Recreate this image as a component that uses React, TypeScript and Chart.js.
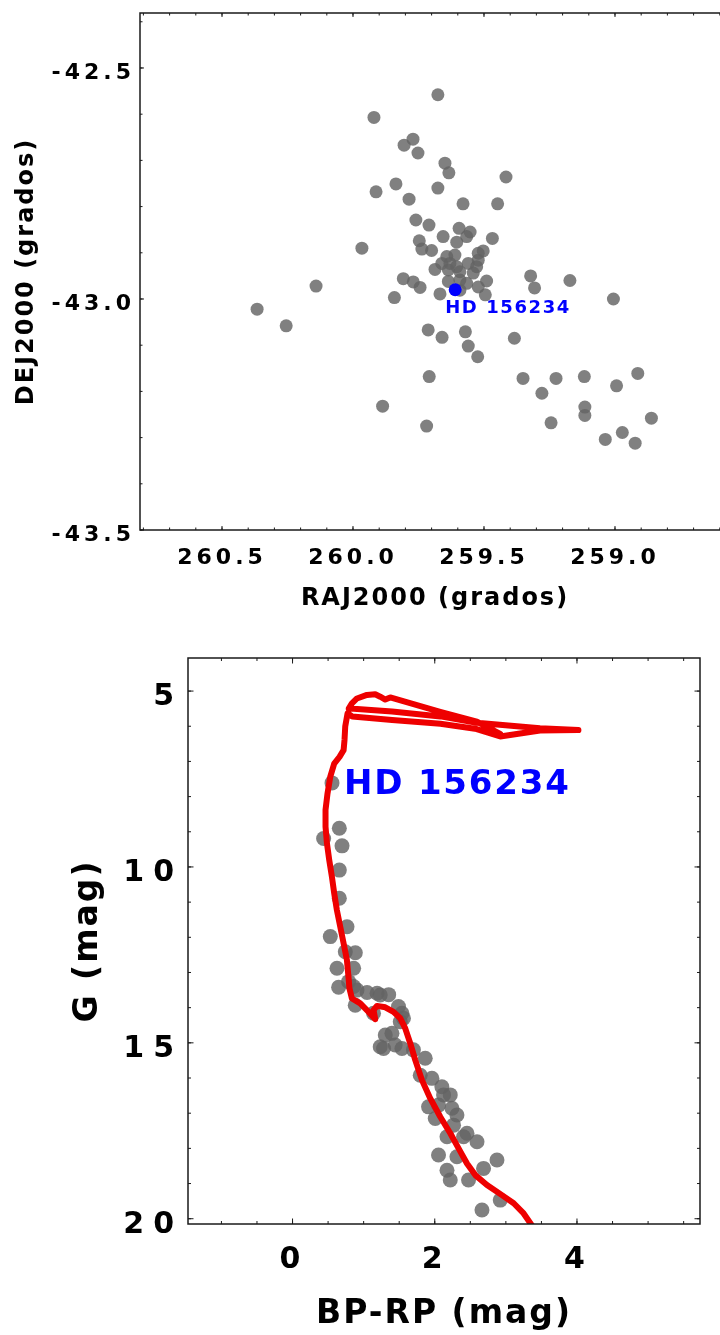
import React, { useEffect, useRef } from 'react';
import { Chart, registerables, Scale } from 'chart.js';

Chart.register(...registerables);

const FAMILY = "'DejaVu Sans', 'Liberation Sans', sans-serif";

// ---------- Top chart: sky positions ----------
const FIELD_RA = [
  259.676, 259.920, 259.771, 259.805, 259.752, 259.649, 259.634, 259.416, 259.836, 259.912,
  259.676, 259.786, 259.580, 259.448, 259.760, 259.710, 259.656, 259.595, 259.553, 259.468,
  259.747, 259.737, 259.700, 259.604, 259.966, 259.503, 259.522, 259.808, 259.770, 259.744,
  260.141, 260.366, 260.255, 259.842, 259.668, 259.490, 259.522, 259.495, 259.713, 259.660,
  259.571, 259.560, 259.524, 259.384, 259.322, 259.307, 259.172, 259.006, 259.709, 259.351,
  259.279, 259.225, 259.117, 258.994, 258.913, 259.887, 259.719, 259.244, 259.115, 259.115,
  258.861, 259.037, 258.972, 258.923, 259.566, 259.642, 259.611, 259.630, 259.604, 259.592,
  259.636, 259.687, 259.661, 259.560, 259.528, 259.522, 259.541, 259.592, 259.592, 259.566,
  259.636,
];
const FIELD_DEC = [
  -42.558, -42.607, -42.654, -42.667, -42.684, -42.706, -42.727, -42.736, -42.751, -42.768,
  -42.760, -42.784, -42.794, -42.794, -42.829, -42.840, -42.865, -42.847, -42.855, -42.869,
  -42.874, -42.892, -42.895, -42.877, -42.890, -42.896, -42.901, -42.956, -42.963, -42.975,
  -42.972, -43.022, -43.058, -42.997, -42.989, -42.961, -42.974, -42.991, -43.067, -43.083,
  -43.071, -43.102, -43.125, -43.085, -42.950, -42.976, -42.960, -43.000, -43.168, -43.172,
  -43.204, -43.172, -43.168, -43.188, -43.161, -43.232, -43.275, -43.268, -43.234, -43.252,
  -43.258, -43.304, -43.289, -43.312, -42.865, -42.908, -42.905, -42.923, -42.930, -42.941,
  -42.937, -42.936, -42.923, -42.923, -42.930, -42.916, -42.944, -42.959, -42.981, -42.966,
  -42.962,
];
const STAR_NAME = 'HD 156234';
const STAR_RA = 259.61;
const STAR_DEC = -42.98;
const RA_TICKS = [260.5, 260.0, 259.5, 259.0];
const DEC_TICKS = [-42.5, -43.0, -43.5];

// ---------- Bottom chart: colour-magnitude diagram ----------
const CMD_BPRP = [
  0.555, 0.658, 0.437, 0.696, 0.658, 0.658, 0.766, 0.531, 0.742, 0.883,
  0.625, 0.859, 0.648, 0.789, 0.858, 0.907, 1.048, 1.189, 1.233, 1.352,
  0.882, 1.139, 1.490, 1.539, 1.560, 1.515, 1.398, 1.304, 1.280, 1.233,
  1.444, 1.539, 1.700, 1.866, 1.796, 1.960, 2.100, 2.124, 2.218, 1.913,
  2.053, 2.242, 2.312, 2.007, 2.264, 2.453, 2.405, 2.172, 2.594, 2.053,
  2.312, 2.875, 2.686, 2.172, 2.218, 2.475, 2.921, 2.664,
];
const CMD_G = [
  7.61, 8.90, 9.19, 9.40, 10.09, 10.89, 11.70, 11.98, 12.41, 12.44,
  12.88, 12.88, 13.42, 13.26, 13.40, 13.50, 13.57, 13.59, 13.64, 13.63,
  13.93, 14.16, 13.97, 14.16, 14.30, 14.40, 14.73, 14.78, 15.16, 15.11,
  15.06, 15.16, 15.20, 15.44, 15.92, 16.01, 16.25, 16.48, 16.48, 16.82,
  16.77, 16.86, 17.05, 17.15, 17.34, 17.57, 17.67, 17.67, 17.81, 18.19,
  18.24, 18.33, 18.57, 18.62, 18.90, 18.90, 19.47, 19.75,
];
const CMD_STAR_BPRP = 0.555;
const CMD_STAR_G = 7.61;

const ISO_BPRP = [
  3.42, 3.25, 3.11, 2.945, 2.734, 2.57, 2.453, 2.335, 2.218, 2.077,
  1.937, 1.82, 1.726, 1.655, 1.585, 1.515, 1.42, 1.304, 1.187, 1.139,
  1.163, 1.069, 0.952, 0.835, 0.80, 0.79, 0.765, 0.718, 0.671, 0.624,
  0.586, 0.554, 0.516, 0.484, 0.464, 0.464, 0.492, 0.530, 0.586, 0.661,
  0.718, 0.731, 0.741, 0.774,
  0.84, 1.40, 2.08, 2.59, 2.92, 3.48, 4.02,
  3.48, 2.59, 2.08, 1.40, 0.86, 0.79,
  0.835, 0.906, 1.046, 1.163, 1.233, 1.304, 1.374, 2.077, 2.593, 2.92,
];
const ISO_G = [
  20.35, 19.85, 19.56, 19.33, 19.04, 18.76, 18.43, 18.00, 17.57, 17.10,
  16.58, 16.06, 15.49, 15.01, 14.59, 14.30, 14.12, 13.99, 13.95, 14.07,
  14.33, 14.12, 13.88, 13.74, 13.45, 13.20, 12.65, 12.17, 11.70, 11.23,
  10.75, 10.28, 9.80, 9.33, 8.86, 8.38, 7.91, 7.44, 7.06, 6.87,
  6.68, 6.39, 6.01, 5.63,
  5.72, 5.82, 5.93, 6.08, 6.29, 6.12, 6.11,
  6.06, 5.90, 5.72, 5.58, 5.50, 5.50,
  5.35, 5.21, 5.11, 5.09, 5.16, 5.24, 5.18, 5.59, 5.87, 6.22,
];
const BPRP_TICKS = [0, 2, 4];
const G_TICKS = [5, 10, 15, 20];

// ---------- helpers ----------
function range(a: number, b: number, s: number): number[] {
  const out: number[] = [];
  const n = Math.round((b - a) / s);
  for (let i = 0; i <= n; i++) out.push(Math.round((a + i * s) * 1000) / 1000);
  return out;
}

// letter spacing support for Chart.js tick labels / titles
const proto: any = (Scale as any).prototype;
if (!proto.__lsPatched) {
  proto.__lsPatched = true;
  const origLabels = proto.drawLabels;
  const origTitle = proto.drawTitle;
  proto.drawLabels = function (area: any) {
    const ctx = this.ctx;
    let ls = '0px';
    try { ls = (this.options.ticks && this.options.ticks.letterSpacing) || '0px'; } catch (e) {}
    ctx.save();
    ctx.letterSpacing = ls;
    origLabels.call(this, area);
    ctx.restore();
  };
  proto.drawTitle = function () {
    const ctx = this.ctx;
    let ls = '0px';
    try { ls = (this.options.title && this.options.title.letterSpacing) || '0px'; } catch (e) {}
    ctx.save();
    ctx.letterSpacing = ls;
    origTitle.call(this);
    ctx.restore();
  };
}

function fixSize(key: 'width' | 'height', size: number) {
  return (s: any) => {
    s[key] = size;
    s.paddingTop = 0;
    s.paddingBottom = 0;
    s.paddingLeft = 0;
    s.paddingRight = 0;
  };
}

function framePlugin(xMajor: number[], xMinor: number[], yMajor: number[], yMinor: number[], majLen: number, minLen: number) {
  return {
    id: 'frameTicks',
    afterDraw(chart: any) {
      const { ctx, chartArea: a, scales } = chart;
      const xs = scales.x;
      const ys = scales.y;
      ctx.save();
      ctx.strokeStyle = '#1a1a1a';
      ctx.lineWidth = 1;
      ctx.beginPath();
      const doX = (vals: number[], len: number) => {
        vals.forEach((v) => {
          const p = xs.getPixelForValue(v);
          if (p < a.left - 0.5 || p > a.right + 0.5) return;
          ctx.moveTo(p, a.bottom); ctx.lineTo(p, a.bottom - len);
          ctx.moveTo(p, a.top); ctx.lineTo(p, a.top + len);
        });
      };
      const doY = (vals: number[], len: number) => {
        vals.forEach((v) => {
          const p = ys.getPixelForValue(v);
          if (p < a.top - 0.5 || p > a.bottom + 0.5) return;
          ctx.moveTo(a.left, p); ctx.lineTo(a.left + len, p);
          ctx.moveTo(a.right, p); ctx.lineTo(a.right - len, p);
        });
      };
      doX(xMinor, minLen); doX(xMajor, majLen);
      doY(yMinor, minLen); doY(yMajor, majLen);
      ctx.stroke();
      ctx.lineWidth = 1.5;
      ctx.strokeRect(a.left, a.top, a.right - a.left, a.bottom - a.top);
      ctx.restore();
    },
  };
}

function labelPlugin(text: string, x: number, y: number, dx: number, dy: number, size: number, ls: string, color: string) {
  return {
    id: 'starLabel',
    afterDatasetsDraw(chart: any) {
      const { ctx, scales } = chart;
      const px = scales.x.getPixelForValue(x) + dx;
      const py = scales.y.getPixelForValue(y) + dy;
      ctx.save();
      ctx.font = `bold ${size}px ${FAMILY}`;
      ctx.letterSpacing = ls;
      ctx.fillStyle = color;
      ctx.textAlign = 'left';
      ctx.textBaseline = 'middle';
      ctx.fillText(text, px, py);
      ctx.restore();
    },
  };
}

function topConfig(): any {
  return {
    type: 'scatter',
    data: {
      datasets: [
        {
          data: [{ x: STAR_RA, y: STAR_DEC }],
          backgroundColor: '#0000ff',
          pointRadius: 6.5,
          borderWidth: 0,
          order: 0,
        },
        {
          data: FIELD_RA.map((x, i) => ({ x, y: FIELD_DEC[i] })),
          backgroundColor: 'rgba(100,100,100,0.82)',
          pointRadius: 6.5,
          borderWidth: 0,
          order: 1,
        },
      ],
    },
    options: {
      responsive: false,
      animation: false,
      devicePixelRatio: 1,
      events: [],
      layout: { padding: { top: 13, right: 10, left: 0, bottom: 0 } },
      plugins: { legend: { display: false }, tooltip: { enabled: false } },
      scales: {
        x: {
          type: 'linear',
          reverse: true,
          min: 258.561,
          max: 260.813,
          grid: { display: false, drawTicks: false },
          border: { display: false },
          afterFit: fixSize('height', 90),
          afterBuildTicks: (s: any) => { s.ticks = RA_TICKS.map((v) => ({ value: v })); },
          ticks: {
            padding: 15,
            maxRotation: 0,
            autoSkip: false,
            color: '#000',
            font: { family: FAMILY, size: 22, weight: 'bold' },
            letterSpacing: '4px',
            callback: (v: any) => Number(v).toFixed(1),
          },
          title: {
            display: true,
            text: 'RAJ2000 (grados)',
            color: '#000',
            font: { family: FAMILY, size: 24, weight: 'bold' },
            padding: { top: 0, bottom: 7 },
            letterSpacing: '2px',
          },
        },
        y: {
          type: 'linear',
          min: -43.5,
          max: -42.381,
          grid: { display: false, drawTicks: false },
          border: { display: false },
          afterFit: fixSize('width', 140),
          afterBuildTicks: (s: any) => { s.ticks = DEC_TICKS.map((v) => ({ value: v })); },
          ticks: {
            padding: 5,
            labelOffset: 5,
            color: '#000',
            font: { family: FAMILY, size: 22, weight: 'bold' },
            letterSpacing: '4px',
            callback: (v: any) => Number(v).toFixed(1),
          },
          title: {
            display: true,
            text: 'DEJ2000 (grados)',
            color: '#000',
            font: { family: FAMILY, size: 24, weight: 'bold' },
            padding: { top: 12, bottom: 0 },
            letterSpacing: '2px',
          },
        },
      },
    },
    plugins: [
      framePlugin(RA_TICKS, range(258.6, 260.8, 0.1), DEC_TICKS, range(-43.5, -42.4, 0.1), 4, 2.5),
      labelPlugin(STAR_NAME, STAR_RA, STAR_DEC, -10, 19, 18, '1.6px', '#0000ff'),
    ],
  };
}

function bottomConfig(): any {
  return {
    type: 'scatter',
    data: {
      datasets: [
        {
          data: ISO_BPRP.map((x, i) => ({ x, y: ISO_G[i] })),
          showLine: true,
          borderColor: 'rgb(238,0,0)',
          borderWidth: 6,
          borderCapStyle: 'round',
          borderJoinStyle: 'round',
          pointRadius: 0,
          tension: 0,
          order: 0,
        },
        {
          data: CMD_BPRP.map((x, i) => ({ x, y: CMD_G[i] })),
          backgroundColor: 'rgba(100,100,100,0.82)',
          pointRadius: 7.5,
          borderWidth: 0,
          order: 1,
        },
      ],
    },
    options: {
      responsive: false,
      animation: false,
      devicePixelRatio: 1,
      events: [],
      layout: { padding: { top: 33, right: 20, left: 0, bottom: 0 } },
      plugins: { legend: { display: false }, tooltip: { enabled: false } },
      scales: {
        x: {
          type: 'linear',
          min: -1.47,
          max: 5.73,
          grid: { display: false, drawTicks: false },
          border: { display: false },
          afterFit: fixSize('height', 111),
          afterBuildTicks: (s: any) => { s.ticks = BPRP_TICKS.map((v) => ({ value: v })); },
          ticks: {
            padding: 18,
            labelOffset: -2.5,
            maxRotation: 0,
            autoSkip: false,
            color: '#000',
            font: { family: FAMILY, size: 30, weight: 'bold' },
            letterSpacing: '0px',
            callback: (v: any) => String(v),
          },
          title: {
            display: true,
            text: 'BP-RP (mag)',
            color: '#000',
            font: { family: FAMILY, size: 33, weight: 'bold' },
            padding: { top: 0, bottom: 1 },
            letterSpacing: '2px',
          },
        },
        y: {
          type: 'linear',
          reverse: true,
          min: 4.06,
          max: 20.15,
          grid: { display: false, drawTicks: false },
          border: { display: false },
          afterFit: fixSize('width', 188),
          afterBuildTicks: (s: any) => { s.ticks = G_TICKS.map((v) => ({ value: v })); },
          ticks: {
            padding: 5,
            labelOffset: 6,
            color: '#000',
            font: { family: FAMILY, size: 30, weight: 'bold' },
            letterSpacing: '9px',
            callback: (v: any) => String(v),
          },
          title: {
            display: true,
            text: 'G (mag)',
            color: '#000',
            font: { family: FAMILY, size: 33, weight: 'bold' },
            padding: { top: 69, bottom: 0 },
            letterSpacing: '2px',
          },
        },
      },
    },
    plugins: [
      framePlugin(BPRP_TICKS, range(-1.0, 5.5, 0.5), G_TICKS, range(5, 20, 1), 5.5, 3),
      labelPlugin(STAR_NAME, CMD_STAR_BPRP, CMD_STAR_G, 12, 2, 34, '1.8px', '#0000ff'),
    ],
  };
}

export default function App() {
  const topRef = useRef<HTMLCanvasElement>(null);
  const botRef = useRef<HTMLCanvasElement>(null);

  useEffect(() => {
    const c1 = new Chart(topRef.current as HTMLCanvasElement, topConfig());
    const c2 = new Chart(botRef.current as HTMLCanvasElement, bottomConfig());
    return () => {
      c1.destroy();
      c2.destroy();
    };
  }, []);

  return (
    <div
      style={{
        position: 'absolute',
        left: 0,
        top: 0,
        width: 720,
        height: 1335,
        overflow: 'hidden',
        background: '#ffffff',
      }}
    >
      <canvas
        ref={topRef}
        width={740}
        height={620}
        style={{ position: 'absolute', left: 0, top: 0, width: 740, height: 620 }}
      />
      <canvas
        ref={botRef}
        width={720}
        height={710}
        style={{ position: 'absolute', left: 0, top: 625, width: 720, height: 710 }}
      />
    </div>
  );
}
